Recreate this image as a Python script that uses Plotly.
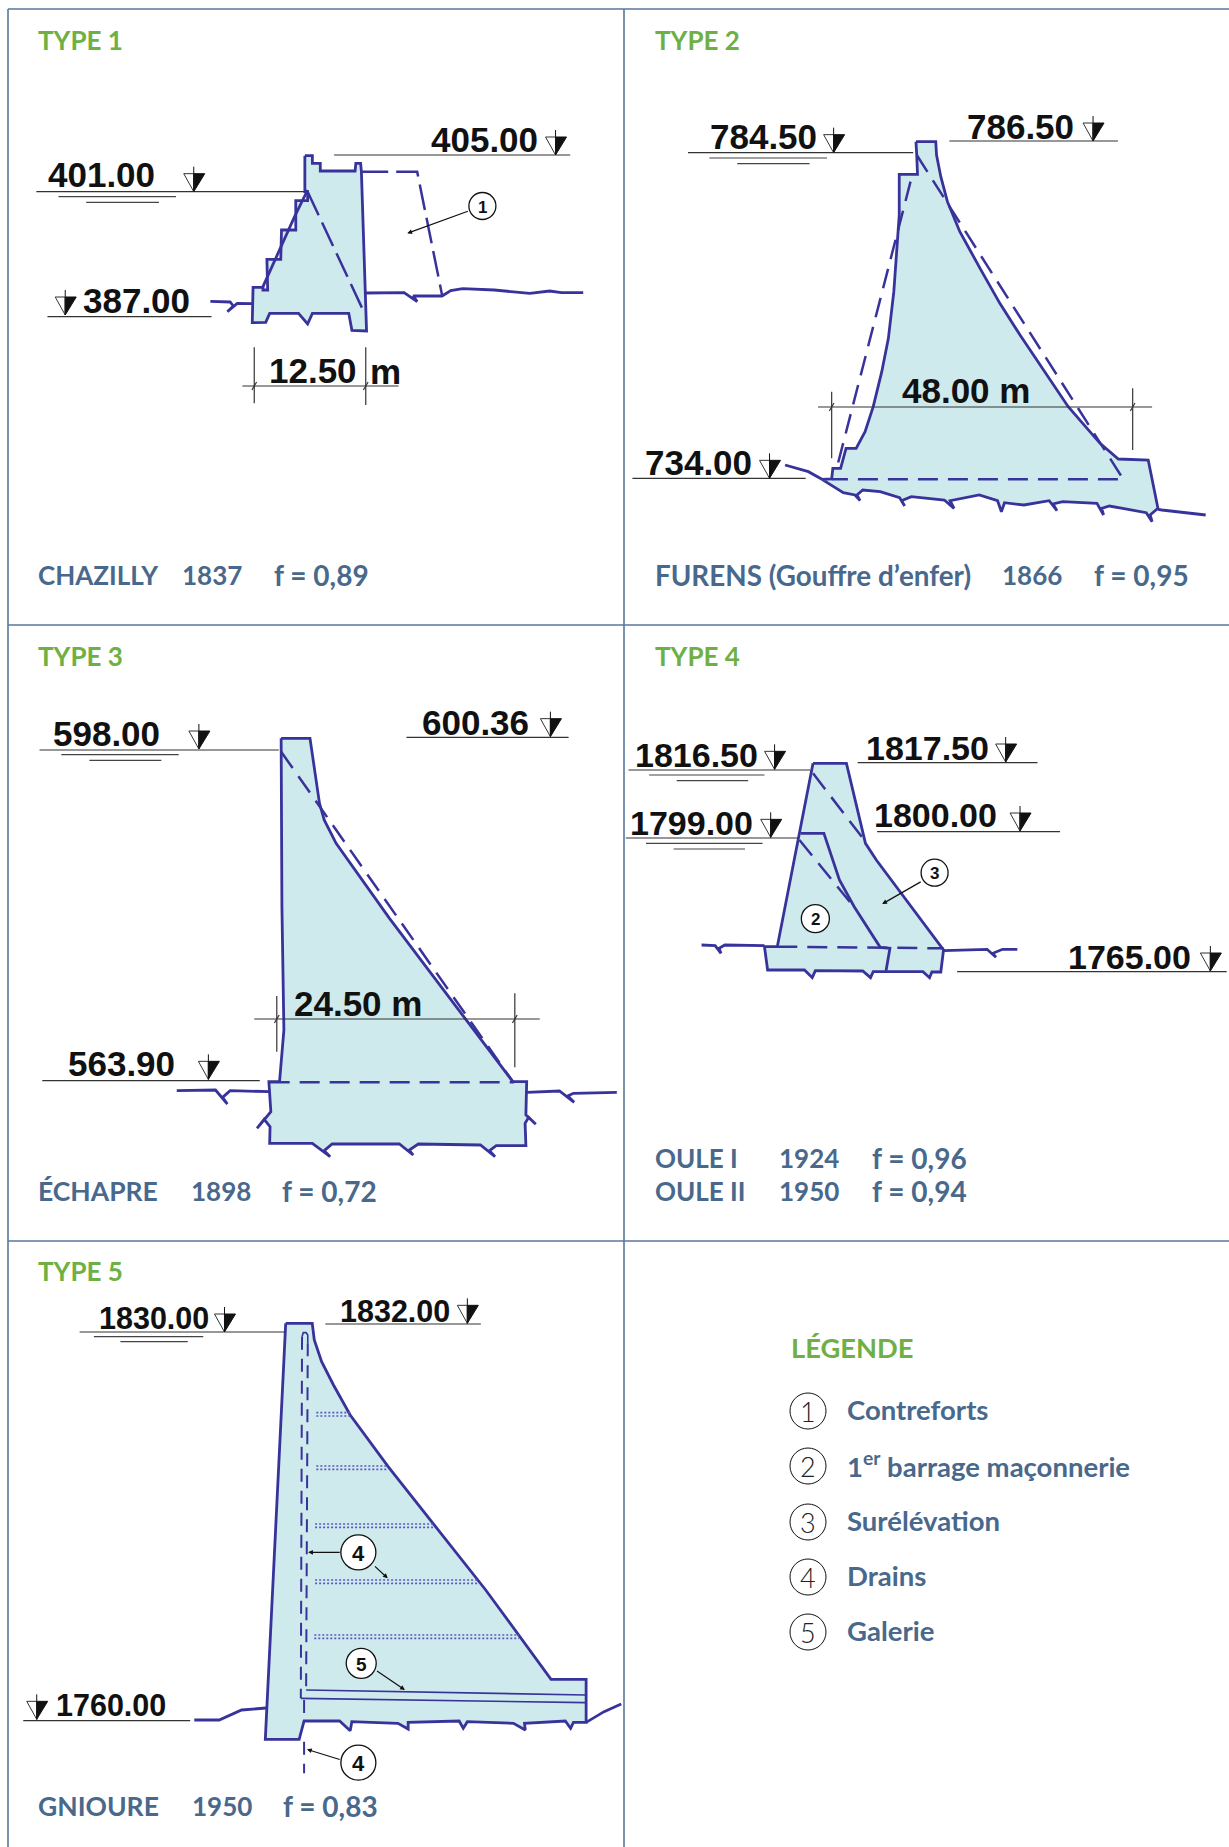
import plotly.graph_objects as go

W, H = 1229, 1847
INK = '#38339b'
FILL = '#cfeaec'
FRAME = '#5a7699'
GREEN = '#6eb043'
SLATE = '#48688c'
BLACK = '#111111'

# crops the shapes were read from: left, top, width (drawn at 1568 wide, 3x tall)
CROP_A = (0, 0, 620)
CROP_B = (620, 80, 609)
CROP_C = (0, 680, 620)
CROP_D = (620, 700, 609)
CROP_E = (0, 1270, 640)

# --- TYPE 1, Chazilly
T1_DAM = [(771, 467), (790, 467), (790, 490), (810, 490), (810, 513), (898, 513), (900, 490), (912, 490),
          (914, 515), (925, 880), (927, 993), (890, 991), (882, 940), (790, 940), (778, 972), (755, 940),
          (682, 940), (672, 967), (638, 968), (640, 862), (665, 862), (665, 870), (677, 870), (675, 778),
          (710, 778), (712, 690), (748, 690), (748, 602), (778, 602), (778, 575), (771, 575)]
T1_SOLID = [[(663, 865), (745, 650), (778, 570)],
            [(532, 904), (582, 906), (590, 918), (575, 935), (600, 910), (640, 911)],
            [(925, 879), (1022, 878), (1055, 905), (1045, 888), (1118, 888), (1140, 872), (1170, 866),
             (1250, 870), (1340, 880), (1390, 873), (1420, 878), (1475, 878)]]
T1_DASHED = [[(778, 575), (920, 935)], [(916, 515), (1055, 515), (1118, 885)]]
T1_THIN = [[(92, 575), (770, 575)], [(845, 465), (1442, 465)], [(120, 950), (535, 950)],
           [(643, 1042), (643, 1210)], [(925, 1042), (925, 1215)], [(613, 1158), (1008, 1158)],
           [(637, 1170), (649, 1146)], [(919, 1170), (931, 1146)]]
T1_WATER = [[(148, 590), (445, 590)], [(218, 607), (402, 607)]]
T1_APEX = [(490, 575), (1405, 465), (165, 945)]
T1_NUMBERS = [('401.00', 122, 523), ('405.00', 1092, 418), ('387.00', 212, 900), ('12.50', 682, 1110), ('m', 938, 1115)]
T1_CIRCLES = [('1', 1220, 618, 27)]
T1_ARROWS = [((1187, 632), (1030, 700))]

# --- TYPE 2, Furens
T2_DAM = [(762, 185), (813, 185), (815, 225), (826, 290), (843, 365), (875, 455), (927, 565), (978, 670),
          (1030, 765), (1090, 870), (1154, 980), (1236, 1090), (1283, 1137), (1360, 1140), (1385, 1285),
          (1365, 1305), (1370, 1325), (1355, 1298), (1260, 1278), (1240, 1285), (1245, 1305), (1228, 1270),
          (1140, 1265), (1115, 1272), (1125, 1292), (1105, 1262), (1040, 1275), (990, 1268), (982, 1295),
          (972, 1262), (925, 1245), (850, 1262), (860, 1285), (835, 1260), (750, 1250), (725, 1262),
          (733, 1278), (720, 1253), (670, 1235), (625, 1230), (610, 1245), (618, 1262), (605, 1245),
          (575, 1238), (520, 1198), (545, 1197), (548, 1165), (568, 1165), (582, 1105), (608, 1105),
          (631, 1055), (652, 980), (674, 875), (691, 775), (705, 635), (714, 475), (719, 405), (719, 283),
          (766, 283), (764, 225)]
T2_SOLID = [[(425, 1155), (485, 1175), (520, 1198)], [(1385, 1288), (1395, 1290), (1508, 1305)]]
T2_DASHED = [[(764, 225), (1296, 1198), (545, 1198)], [(748, 305), (558, 1165)]]
T2_THIN = [[(175, 218), (755, 218)], [(848, 183), (1282, 183)], [(32, 1195), (478, 1195)],
           [(510, 981), (1370, 981)], [(545, 935), (545, 1135)], [(1320, 925), (1320, 1110)],
           [(539, 993), (551, 969)], [(1314, 993), (1326, 969)]]
T2_WATER = [[(230, 234), (533, 234)], [(302, 251), (488, 251)]]
T2_APEX = [(550, 218), (1218, 183), (385, 1195)]
T2_NUMBERS = [('784.50', 232, 168), ('786.50', 895, 138), ('734.00', 66, 1148), ('48.00 m', 728, 930)]

# --- TYPE 3, Echapre
T3_DAM = [(711, 175), (784, 175), (808, 370), (820, 420), (850, 490), (985, 715), (1297, 1205), (1332, 1205),
          (1330, 1305), (1355, 1333), (1337, 1312), (1328, 1330), (1330, 1397), (1255, 1397), (1238, 1412),
          (1252, 1430), (1215, 1395), (1058, 1392), (1035, 1410), (1045, 1425), (1010, 1392), (840, 1392),
          (820, 1412), (835, 1430), (790, 1390), (682, 1390), (683, 1340), (668, 1318), (650, 1345),
          (685, 1295), (680, 1205), (707, 1205), (718, 1050), (713, 680)]
T3_SOLID = [[(447, 1232), (545, 1230), (575, 1272), (563, 1252), (582, 1232), (682, 1235)],
            [(1332, 1237), (1415, 1233), (1452, 1267), (1436, 1248), (1450, 1240), (1560, 1237)]]
T3_DASHED = [[(711, 215), (1297, 1205)], [(682, 1207), (1300, 1207)]]
T3_THIN = [[(100, 210), (705, 210)], [(1028, 172), (1438, 172)], [(107, 1202), (657, 1202)],
           [(643, 1017), (1365, 1017)], [(700, 948), (700, 1115)], [(1302, 940), (1302, 1162)],
           [(694, 1029), (706, 1005)], [(1296, 1029), (1308, 1005)]]
T3_WATER = [[(155, 224), (452, 224)], [(226, 241), (408, 241)]]
T3_APEX = [(503, 207), (1392, 170), (527, 1198)]
T3_NUMBERS = [('598.00', 135, 160), ('600.36', 1068, 128), ('563.90', 172, 1150), ('24.50 m', 745, 970)]

# --- TYPE 4, Oule
T4_DAM = [(497, 190), (583, 190), (632, 430), (660, 480), (833, 750), (826, 816), (803, 816), (797, 833),
          (780, 815), (652, 815), (645, 833), (625, 813), (503, 812), (495, 833), (475, 810), (380, 810),
          (372, 740), (405, 740)]
T4_SOLID = [[(465, 400), (525, 400), (565, 540), (603, 620), (670, 742), (695, 745), (685, 812)],
            [(210, 735), (245, 737), (260, 760), (255, 745), (270, 735), (372, 737)],
            [(833, 752), (945, 748), (968, 772), (960, 760), (985, 748), (1023, 748)]]
T4_DASHED = [[(497, 220), (632, 425)], [(462, 420), (605, 625)], [(405, 740), (833, 745)]]
T4_THIN = [[(22, 210), (490, 210)], [(612, 188), (1075, 188)], [(15, 414), (460, 414)],
           [(662, 395), (1133, 395)], [(868, 815), (1562, 815)]]
T4_WATER = [[(75, 225), (372, 225)], [(146, 242), (330, 242)], [(67, 430), (367, 430)], [(138, 447), (322, 447)]]
T4_APEX = [(398, 208), (993, 186), (388, 412), (1030, 393), (1520, 813)]
T4_NUMBERS = [('1816.50', 40, 165), ('1817.50', 635, 145), ('1799.00', 28, 370), ('1800.00', 654, 345), ('1765.00', 1155, 770)]
T4_CIRCLES = [('3', 810, 518, 27), ('2', 503, 656, 28)]
T4_ARROWS = [((778, 543), (675, 612))]

# --- TYPE 5, Gnioure
T5_DAM = [(700, 160), (765, 160), (770, 210), (788, 275), (817, 345), (858, 435), (951, 590), (1054, 750),
          (1190, 960), (1350, 1228), (1436, 1228), (1436, 1357), (1405, 1357), (1398, 1375), (1385, 1353),
          (1285, 1360), (1287, 1380), (1258, 1360), (1145, 1355), (1135, 1375), (1125, 1353), (1000, 1357),
          (1000, 1377), (975, 1360), (862, 1355), (858, 1382), (832, 1353), (745, 1353), (733, 1408), (650, 1408)]
T5_SOLID = [[(476, 1350), (537, 1350), (592, 1320), (652, 1314)], [(1436, 1357), (1480, 1325), (1522, 1302)]]
T5_GALLERY = [[(750, 1260), (1435, 1275)], [(737, 1285), (1435, 1298)],
              [(740, 200), (743, 188), (750, 188), (754, 195), (754, 220)]]
T5_DASHED = [[(740, 200), (737, 1285)], [(754, 220), (750, 1260)], [(745, 1290), (745, 1348)], [(745, 1415), (745, 1510)]]
T5_DOTTED = [[(775, 428), (858, 428)], [(775, 438), (858, 438)], [(775, 588), (950, 588)], [(775, 598), (950, 598)],
             [(772, 762), (1062, 762)], [(772, 772), (1062, 772)], [(772, 930), (1172, 930)], [(772, 940), (1172, 940)],
             [(770, 1095), (1272, 1095)], [(770, 1105), (1272, 1105)]]
T5_THIN = [[(195, 186), (697, 186)], [(797, 162), (1178, 162)], [(57, 1352), (466, 1352)]]
T5_WATER = [[(230, 200), (498, 200)], [(295, 215), (460, 215)]]
T5_APEX = [(550, 186), (1145, 160), (90, 1348)]
T5_NUMBERS = [('1830.00', 243, 145), ('1832.00', 835, 124), ('1760.00', 138, 1305)]
T5_CIRCLES = [('4', 878, 847, 35), ('5', 885, 1180, 30), ('4', 878, 1478, 35)]
T5_ARROWS = [((836, 847), (755, 847)), ((915, 885), (950, 925)), ((920, 1200), (992, 1260)), ((836, 1470), (752, 1438))]

# --- frame and captions
FRAME_LINES = [[(8, 9), (1229, 9)], [(8, 625), (1229, 625)], [(8, 1241), (1229, 1241)],
               [(8, 9), (8, 1847)], [(624, 9), (624, 1847)]]
TYPE_TITLES = [('TYPE 1', 38, 40), ('TYPE 2', 655, 40), ('TYPE 3', 38, 656), ('TYPE 4', 655, 656), ('TYPE 5', 38, 1271)]
CAPTIONS = [('CHAZILLY', 38, 575, 26), ('1837', 182, 575, 26), ('f = 0,89', 274, 575, 28),
            ('FURENS (Gouffre d’enfer)', 655, 575, 27.8), ('1866', 1002, 575, 26), ('f = 0,95', 1094, 575, 28),
            ('ÉCHAPRE', 38, 1191, 26.5), ('1898', 191, 1191, 26), ('f = 0,72', 282, 1191, 28),
            ('OULE I', 655, 1158, 26), ('1924', 779, 1158, 26), ('f = 0,96', 872, 1158, 28),
            ('OULE II', 655, 1191, 26), ('1950', 779, 1191, 26), ('f = 0,94', 872, 1191, 28),
            ('GNIOURE', 38, 1806, 26.5), ('1950', 192, 1806, 26), ('f = 0,83', 283, 1806, 28)]
LEGEND_TITLE = 'LÉGENDE'
LEGEND_NUMBERS = ['1', '2', '3', '4', '5']
LEGEND_LABELS = ['Contreforts', '1<sup>er</sup> barrage maçonnerie', 'Surélévation', 'Drains', 'Galerie']
LEGEND_Y = [1411, 1466, 1522, 1577, 1632]


def to_px(points, crop):
    left, top, width = crop
    k = 1568 / width
    return [(left + x / k, top + y / 3) for x, y in points]


def join(lines):
    xs, ys = [], []
    for line in lines:
        xs += [p[0] for p in line] + [None]
        ys += [p[1] for p in line] + [None]
    return xs, ys


fig = go.Figure()


def add_lines(lines, color, width, dash='solid'):
    xs, ys = join(lines)
    fig.add_trace(go.Scatter(x=xs, y=ys, mode='lines', line=dict(color=color, width=width, dash=dash),
                             hoverinfo='skip'))


def add_text(text, x, y, size, color, family='Lato', weight=400, anchor='left'):
    # the text box has some padding, pull left aligned labels back onto their x
    fig.add_annotation(x=x, y=y, text=text, showarrow=False, xanchor=anchor, yanchor='middle',
                       xshift=-2.5 if anchor == 'left' else 0,
                       font=dict(family=family, size=size, color=color, weight=weight))


def add_symbols(apexes):
    # water level sign: half open, half black triangle on a short stem
    blacks, opens, stems = [], [], []
    for x, y in apexes:
        blacks.append([(x, y), (x, y - 18), (x + 11, y - 18), (x, y)])
        opens.append([(x, y), (x, y - 18), (x - 10, y - 18), (x, y)])
        stems.append([(x, y), (x, y - 25)])
    xs, ys = join(blacks)
    fig.add_trace(go.Scatter(x=xs, y=ys, mode='lines', fill='toself', fillcolor=BLACK,
                             line=dict(color=BLACK, width=1), hoverinfo='skip'))
    add_lines(opens, '#333333', 1)
    add_lines(stems, BLACK, 1)


def add_circle(label, x, y, size, text_size):
    fig.add_trace(go.Scatter(x=[x], y=[y], mode='markers', hoverinfo='skip',
                             marker=dict(size=size, color='white', line=dict(color=BLACK, width=1.3))))
    add_text(label, x, y + 1, text_size, BLACK, 'Liberation Sans', 700, 'center')


def add_panel(crop, dam, solid, dashed, thin, water, apexes, numbers, size=35, dash='20px,10px', dash_width=2.5,
              circles=(), arrows=()):
    xs, ys = zip(*to_px(dam, crop))
    fig.add_trace(go.Scatter(x=list(xs) + [xs[0]], y=list(ys) + [ys[0]], mode='lines', fill='toself',
                             fillcolor=FILL, line=dict(color=INK, width=2.8), hoverinfo='skip'))
    add_lines([to_px(p, crop) for p in dashed], INK, dash_width, dash)
    add_lines([to_px(p, crop) for p in solid], INK, 2.8)
    add_lines([to_px(p, crop) for p in thin], '#333333', 1.2)
    add_lines([to_px(p, crop) for p in water], '#444444', 1.2)
    add_symbols(to_px(apexes, crop))
    for label, x, y in numbers:
        (px, py), = to_px([(x, y)], crop)
        add_text(label, px, py, size, BLACK, 'Liberation Sans', 700)
    for start, end in arrows:
        (ax, ay), (hx, hy) = to_px([start, end], crop)
        fig.add_annotation(x=hx, y=hy, ax=ax, ay=ay, axref='x', ayref='y', text='', showarrow=True,
                           arrowhead=2, arrowsize=0.8, arrowwidth=1.2, arrowcolor=BLACK)
    for label, x, y, d in circles:
        (px, py), = to_px([(x, y)], crop)
        add_circle(label, px, py, d, round(d * 0.62))


add_lines(FRAME_LINES, FRAME, 1.6)

add_panel(CROP_A, T1_DAM, T1_SOLID, T1_DASHED, T1_THIN, T1_WATER, T1_APEX, T1_NUMBERS, dash='26px,8px',
          circles=T1_CIRCLES, arrows=T1_ARROWS)
add_panel(CROP_B, T2_DAM, T2_SOLID, T2_DASHED, T2_THIN, T2_WATER, T2_APEX, T2_NUMBERS)
add_panel(CROP_C, T3_DAM, T3_SOLID, T3_DASHED, T3_THIN, T3_WATER, T3_APEX, T3_NUMBERS)
add_panel(CROP_D, T4_DAM, T4_SOLID, T4_DASHED, T4_THIN, T4_WATER, T4_APEX, T4_NUMBERS, size=34,
          circles=T4_CIRCLES, arrows=T4_ARROWS)
add_panel(CROP_E, T5_DAM, T5_SOLID, T5_DASHED, T5_THIN, T5_WATER, T5_APEX, T5_NUMBERS, size=30.5, dash='13px,9px',
          dash_width=2, circles=T5_CIRCLES, arrows=T5_ARROWS)
add_lines([to_px(p, CROP_E) for p in T5_GALLERY], INK, 1.6)
add_lines([to_px(p, CROP_E) for p in T5_DOTTED], '#5a5ac0', 1.6, '2px,2px')

for label, x, y in TYPE_TITLES:
    add_text(label, x, y, 26, GREEN, weight=700)
for label, x, y, size in CAPTIONS:
    add_text(label, x, y, size, SLATE, weight=700)

add_text(LEGEND_TITLE, 791, 1347, 27.3, GREEN, weight=700)
for number, label, y in zip(LEGEND_NUMBERS, LEGEND_LABELS, LEGEND_Y):
    fig.add_trace(go.Scatter(x=[808], y=[y], mode='markers', hoverinfo='skip',
                             marker=dict(size=36, color='white', line=dict(color=BLACK, width=1))))
    add_text(number, 808, y, 27, '#222222', 'Lato', 300, 'center')
    add_text(label, 847, y - 1.5, 27.5, SLATE, weight=700)

fig.update_layout(width=W, height=H, margin=dict(l=0, r=0, t=0, b=0), showlegend=False,
                  paper_bgcolor='white', plot_bgcolor='white', hovermode=False)
fig.update_xaxes(range=[0, W], visible=False)
fig.update_yaxes(range=[H, 0], visible=False)

fig.write_html("out.html", config={'displayModeBar': False}, post_script="document.body.style.margin='0';")
